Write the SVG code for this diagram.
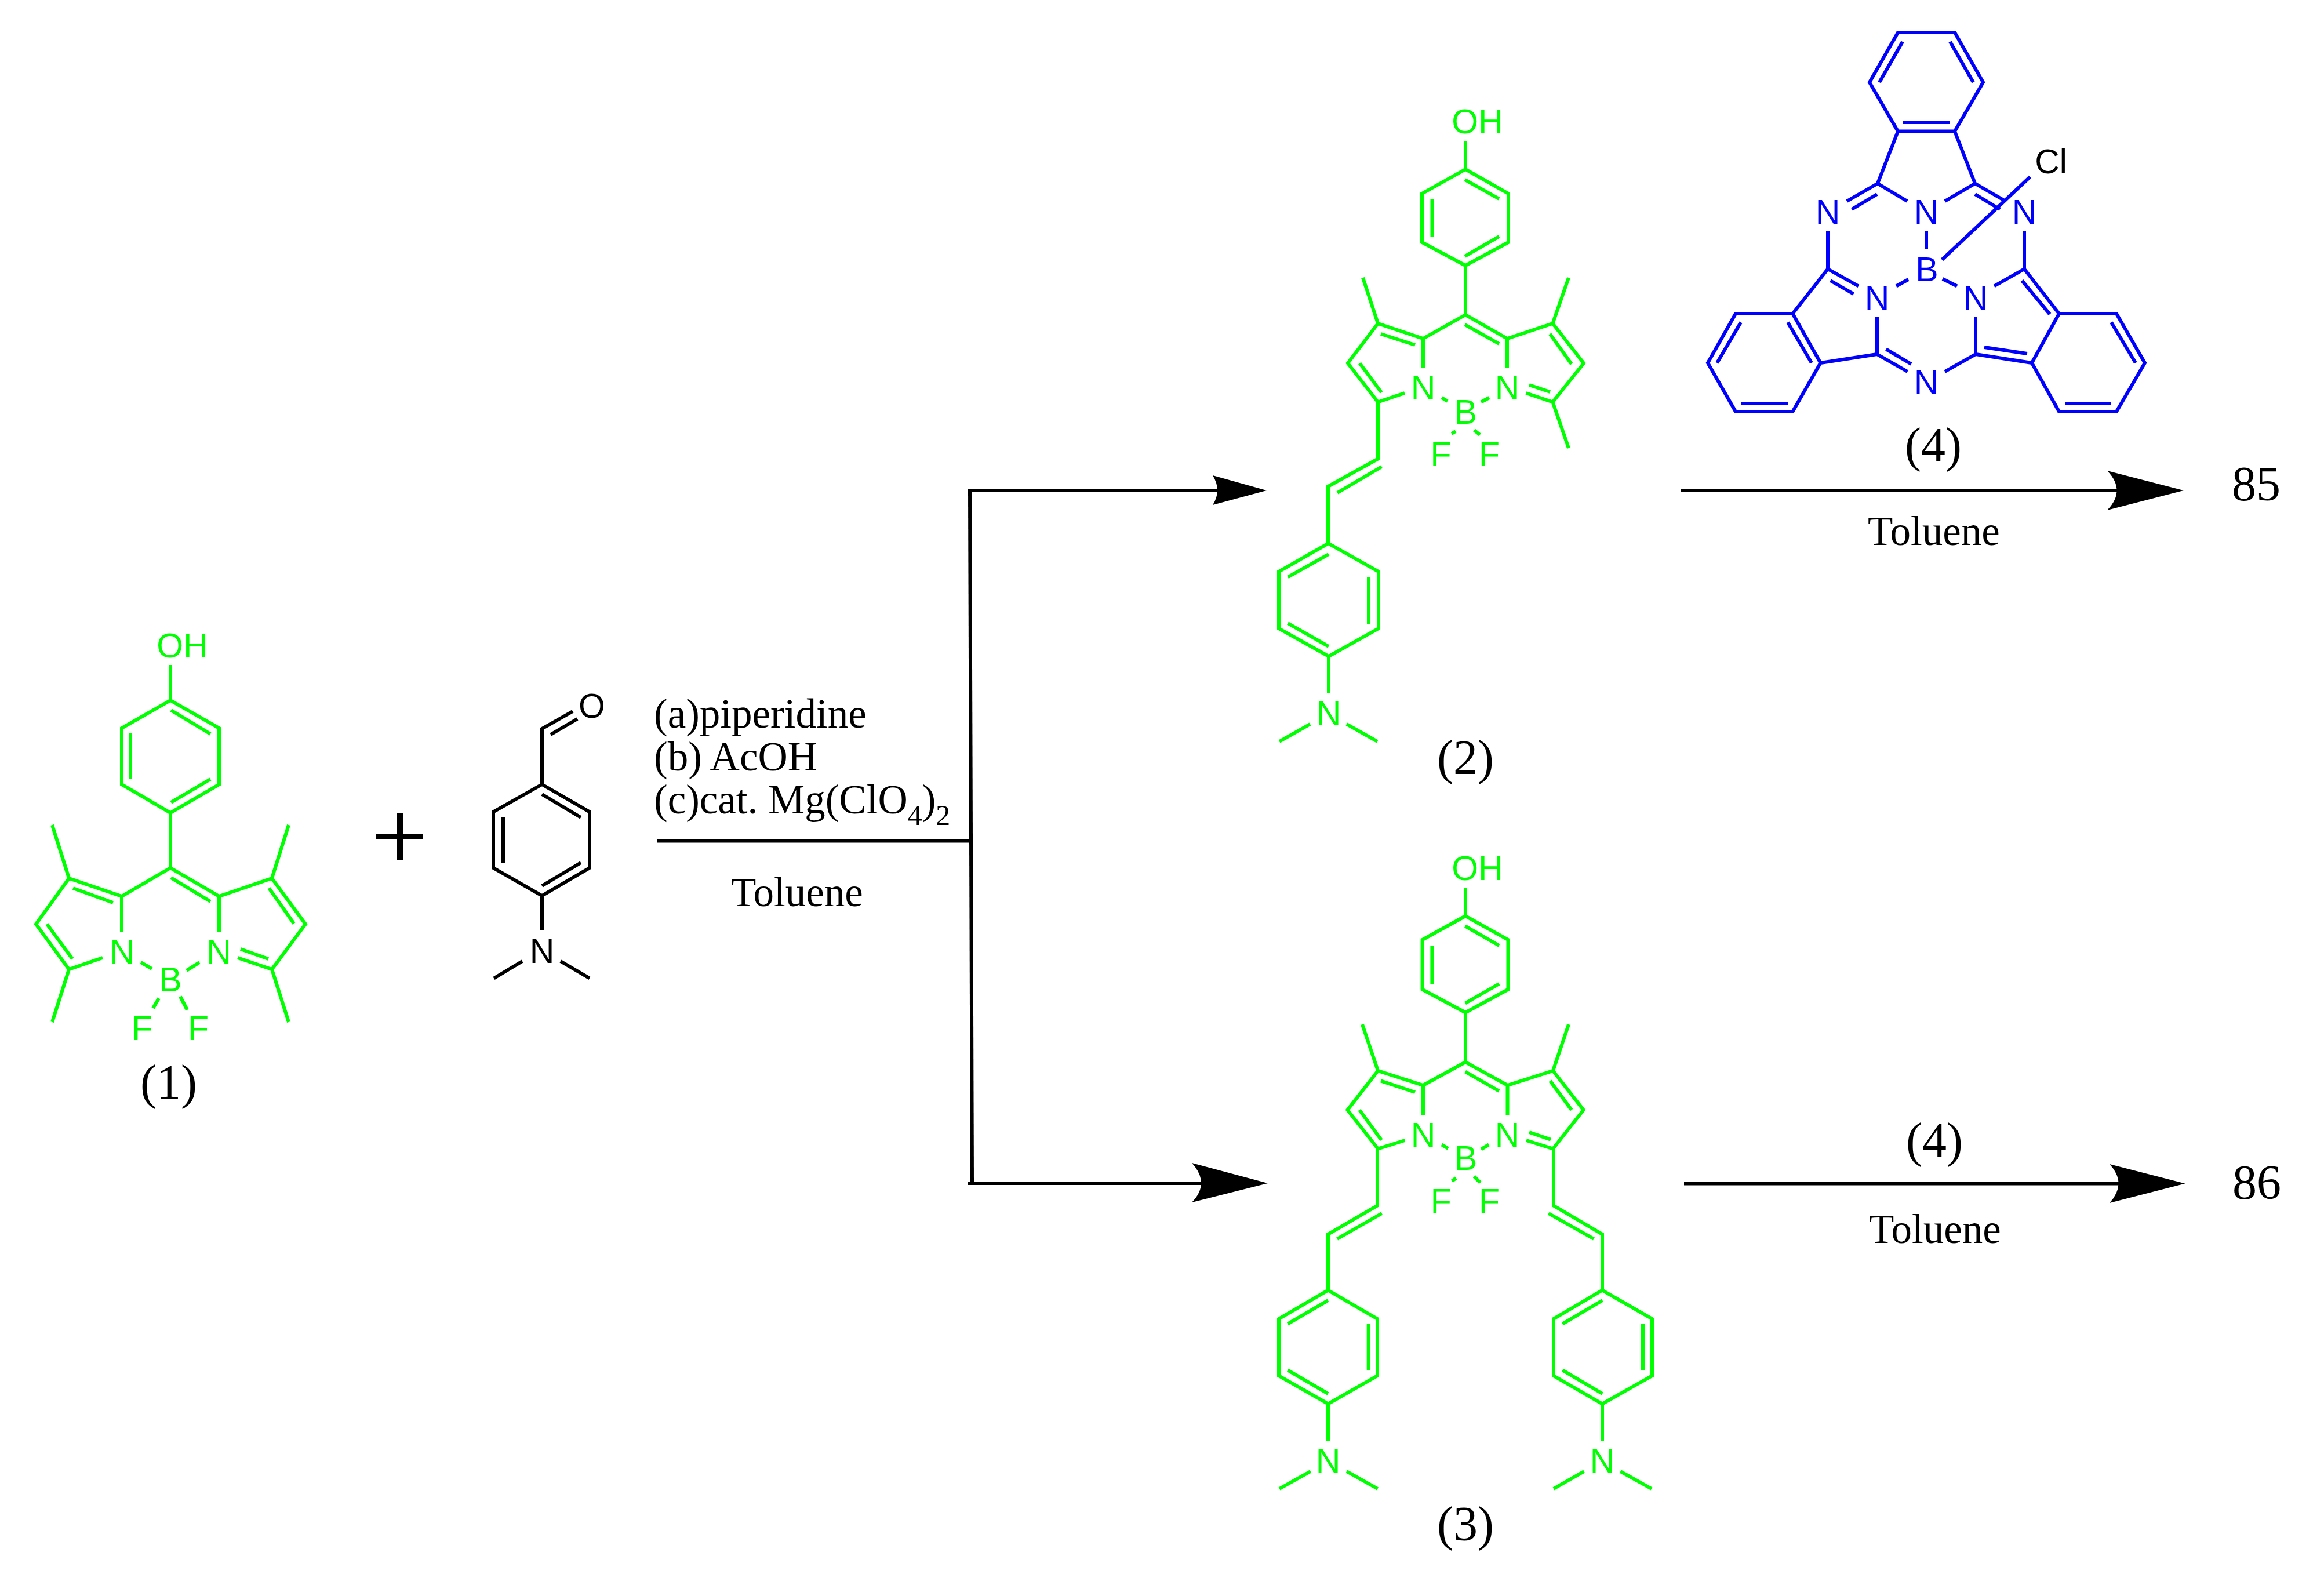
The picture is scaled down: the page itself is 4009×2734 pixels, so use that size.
<svg xmlns="http://www.w3.org/2000/svg" width="4009" height="2734" viewBox="0 0 4009 2734">
<style>
.bg{fill:#fff}
.b{fill:none;stroke-width:6;stroke-linejoin:miter;stroke-linecap:butt}
.g{stroke:#00ff00}
.k{stroke:#000}
.u{stroke:#0000ff}
.l{stroke:#000;stroke-width:6;fill:none}
.h{fill:#000;stroke:none}
text{font-family:"Liberation Sans",Arial,sans-serif;font-size:59px;text-anchor:middle}
.tg{fill:#00ff00}
.tu{fill:#0000ff}
.tk{fill:#000}
.t{font-family:"Liberation Serif","Times New Roman",serif;fill:#000;font-size:84px}
.r{font-family:"Liberation Serif","Times New Roman",serif;fill:#000;font-size:71px;text-anchor:start}
.s{font-size:50px}
</style>
<rect class="bg" width="4009" height="2734"/>
<g id="connectors">
<path class="l" d="M1133 1450.5H1675"/>
<path class="l" d="M1673 846L1677 2041"/>
<path class="l" d="M1670 846H2105"/>
<path class="l" d="M1669 2041H2075"/>
<path class="l" d="M2900 846H3654"/>
<path class="l" d="M2905 2041.5H3655"/>
<path class="h" d="M2185 846L2092 820Q2108 846 2092 871Z"/>
<path class="h" d="M2187 2041L2056 2006Q2088 2041 2056 2074Z"/>
<path class="h" d="M3767 846L3635 812Q3668 846 3635 880Z"/>
<path class="h" d="M3769.5 2041.5L3639 2008Q3670 2041.5 3639 2075Z"/>
</g>
<g id="node-1">
<path class="b g" d="M294 1147V1208L378 1256V1353L294 1402L210 1353V1256L294 1208M295 1225L363 1266M225 1265V1344M295 1384L363 1344M294 1402V1497L378 1546L469 1515L527 1594L469 1672L410 1652M295 1514L363 1555M294 1497L210 1546L119 1515L62 1594L119 1672L177 1652M126 1532L195 1557M81 1594L125 1654M210 1546V1608M378 1546V1608M119 1515L90 1423M119 1672L90 1763M469 1515L498 1423M469 1672L498 1763M464 1532L507 1593M415 1637L463 1654M243 1660L262 1671M322 1674L344 1660M274 1722L264 1739M311 1719L323 1742"/>
<text class="tg" x="314.5" y="1134">OH</text>
<text class="tg" x="210.5" y="1662">N</text>
<text class="tg" x="377.5" y="1662">N</text>
<text class="tg" x="294" y="1710">B</text>
<text class="tg" x="245" y="1794">F</text>
<text class="tg" x="342" y="1794">F</text>
<text class="t" x="291" y="1895">(1)</text>
</g>
<g id="plus"><path class="h" d="M649 1438H685V1402H696V1438H730V1448H696V1484H685V1448H649Z"/></g>
<g id="node-aldehyde">
<path class="b k" d="M935 1353L1017 1400.5V1497L935 1545L851 1497V1400.5L935 1353M935 1370L1002 1410M868 1410V1488M935 1528L1002 1488M935 1353V1257L988 1227M950 1267L996 1240M935 1545V1605M901 1658L852 1687.5M967 1658L1017 1687.5"/>
<text class="tk" x="1021" y="1238">O</text>
<text class="tk" x="935" y="1661">N</text>
</g>
<g id="reagents">
<text class="r" x="1128" y="1255">(a)piperidine</text>
<text class="r" x="1128" y="1329">(b) AcOH</text>
<text class="r" x="1128" y="1403">(c)cat. Mg(ClO<tspan class="s" dy="20">4</tspan><tspan dy="-20">)</tspan><tspan class="s" dy="20">2</tspan></text>
<text class="r" x="1261" y="1563">Toluene</text>
</g>
<g id="node-2">
<path class="b g" d="M2528 244V292L2602 334V418L2528 458L2453 418V334L2528 292M2527 310L2586 343M2470.5 343V409M2527 442L2586 408M2528 458V543L2600 584L2678.5 558L2732 626.5L2678.5 693.5L2632.5 678M2527 560L2586 593M2528 543L2455 584L2377 558L2325 626.5L2377 693.5L2423 678M2382 576L2441 595M2345.5 626.5L2383 677M2455 584V634M2600 584V634M2377 558L2351 479M2678.5 558L2706 479M2678.5 693.5L2706 773M2673.6 576L2711 628M2638 664L2674 676M2487 686L2497 692M2555 693.5L2569 686M2504 748L2511 744M2543 742L2553 750M2377 693.5V791.5L2291 839V937L2378 986V1084L2292 1132L2206 1084V986L2292 937M2383.5 805L2307 850M2292 956L2221.5 995.5M2361 995.5V1076M2221.5 1075L2292 1115M2292 1132V1196M2260 1249L2207 1279M2323 1249L2376 1279"/>
<text class="tg" x="2548.5" y="230">OH</text>
<text class="tg" x="2455" y="689">N</text>
<text class="tg" x="2600" y="689">N</text>
<text class="tg" x="2528.5" y="731">B</text>
<text class="tg" x="2485.5" y="803.5">F</text>
<text class="tg" x="2569" y="803.5">F</text>
<text class="tg" x="2292" y="1251">N</text>
<text class="t" x="2528" y="1335">(2)</text>
</g>
<g id="node-3">
<path class="b g" d="M2528 1532V1580L2601.5 1621V1706.6L2528 1746.5L2453.6 1706.6V1621L2528 1580M2527.5 1597.4L2586 1631M2470.4 1631.7V1697M2527.5 1730.5L2586 1697M2528 1746.5V1832L2600.5 1872L2679 1847L2731.6 1914.6L2679 1981.6L2633 1967M2527.5 1848.5L2586 1882M2528 1832L2455 1872L2377 1847L2324.5 1914.6L2377 1981.6L2423.5 1967M2382 1864.4L2441 1884M2345 1914.6L2383 1966.5M2455 1872V1923M2600.5 1872V1923M2377 1847L2350 1767M2679 1847L2706 1767M2674 1864.4L2711 1914.6M2638 1953L2675 1965.7M2487 1974.4L2498 1981M2555 1982.4L2568.4 1974.4M2504.6 2037.4L2511.7 2032M2543 2029.4L2553.6 2040M2376 1981.6V2079.6L2291 2129V2225.5L2376 2275V2373L2291 2421.5L2206 2373V2275L2291 2225.5M2383.7 2093L2306.6 2137M2291 2243L2221.4 2283.7M2360.7 2283.7V2364M2221.4 2363.4L2291 2404M2291 2421.5V2486M2260.7 2538L2207 2568M2323 2538L2376.5 2568M2680 1981.6V2079.6L2764 2129V2225.5L2850 2275V2373L2764 2421.5L2680 2373V2275L2764 2225.5M2671.4 2093L2749.5 2137M2764.3 2243L2695.4 2283.7M2834 2283.7V2364M2695.4 2363.4L2764.3 2404M2764 2421.5V2486M2732.6 2538L2680 2568M2795.4 2538L2849 2568"/>
<text class="tg" x="2548.5" y="1518">OH</text>
<text class="tg" x="2455" y="1978">N</text>
<text class="tg" x="2600" y="1978">N</text>
<text class="tg" x="2528.6" y="2018">B</text>
<text class="tg" x="2485.8" y="2092">F</text>
<text class="tg" x="2569" y="2092">F</text>
<text class="tg" x="2291" y="2540">N</text>
<text class="tg" x="2764" y="2540">N</text>
<text class="t" x="2528" y="2657">(3)</text>
</g>
<g id="node-4">
<path class="b u" d="M3274 56H3372L3421 142L3372 226.5H3274L3225 142ZM3282 72L3242 142M3364 72L3404 142M3282 211H3364M3274 226.5L3239 316.5L3290 347M3372 226.5L3407 316.5L3355 347M3239 316.5L3186 347M3238 335L3194.5 361M3407 316.5L3458 346M3407 335L3450 361M3502 305L3350 448M3323 399V430M3153 399V464L3206 493.5M3157.5 484L3197.5 507M3153 464L3092.5 541M3271 493.5L3292 482M3351 481L3376 493.5M3440 493.5L3492 464V399M3492 464L3552 541M3488 484L3536 542M3238 546V611L3290.5 641M3253.6 602.4L3297 628M3408 546V611L3355 641M3238 611L3140.5 626M3408 611L3505 626M3423 599L3497 610M2994 541H3092.5L3140.5 626L3092.5 710H2994L2946 626ZM3003 556L2962 626M3084 556L3125 626M3003 696H3084M3552 541H3651L3700 626L3651 710H3552L3505 626ZM3642 556L3684 626M3562 696H3642"/>
<text class="tu" x="3153" y="386">N</text>
<text class="tu" x="3323" y="386">N</text>
<text class="tu" x="3492" y="386">N</text>
<text class="tu" x="3324" y="485">B</text>
<text class="tu" x="3238" y="534.5">N</text>
<text class="tu" x="3408" y="534.5">N</text>
<text class="tu" x="3323" y="680">N</text>
<text class="tk" x="3538" y="299">Cl</text>
<text class="t" x="3335" y="796">(4)</text>
</g>
<g id="labels">
<text class="r" x="3222" y="940">Toluene</text>
<text class="t" x="3892" y="863">85</text>
<text class="t" x="3337" y="1995">(4)</text>
<text class="r" x="3224" y="2144">Toluene</text>
<text class="t" x="3893" y="2068">86</text>
</g>
</svg>
